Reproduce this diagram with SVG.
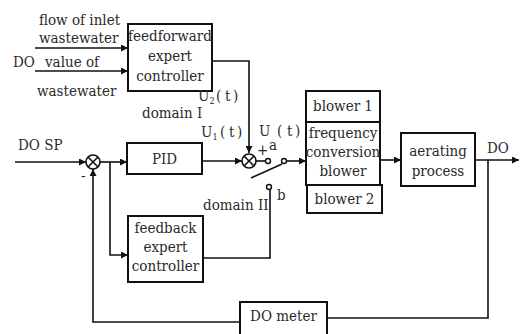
<svg xmlns="http://www.w3.org/2000/svg" width="520" height="334" viewBox="0 0 520 334">
<defs>
<style>
text{font-family:'DejaVu Serif Condensed','DejaVu Serif',serif;font-stretch:condensed;font-size:15px;fill:#2a2a2a}
.c{text-anchor:middle}
.box{fill:#fff;stroke:#111;stroke-width:2}
.ln{fill:none;stroke:#111;stroke-width:1.6}
.sub{font-size:9px}
</style>
<marker id="ah" viewBox="0 0 10 10" refX="10" refY="5" markerWidth="7" markerHeight="7" markerUnits="userSpaceOnUse" orient="auto">
<path d="M0,0 L10,5 L0,10 z" fill="#111"/>
</marker>
</defs>
<rect width="520" height="334" fill="#fff"/>

<g id="connectors">
<path class="ln" d="M35,48 H128" marker-end="url(#ah)"/>
<path class="ln" d="M35,71 H128" marker-end="url(#ah)"/>
<path class="ln" d="M212,61 H249 V153" marker-end="url(#ah)"/>
<path class="ln" d="M15,162 H86" marker-end="url(#ah)"/>
<path class="ln" d="M100,162 H127" marker-end="url(#ah)"/>
<path class="ln" d="M110,162 V255 H128" marker-end="url(#ah)"/>
<path class="ln" d="M202,161 H242" marker-end="url(#ah)"/>
<path class="ln" d="M256,161 H265.5"/>
<circle cx="268" cy="161" r="2.5" fill="#fff" stroke="#111" stroke-width="1.4"/>
<circle cx="284" cy="161" r="2.5" fill="#fff" stroke="#111" stroke-width="1.4"/>
<path class="ln" d="M251,178 L282,164"/>
<path class="ln" d="M286.5,161 H306" marker-end="url(#ah)"/>
<circle cx="269" cy="187" r="2.5" fill="#fff" stroke="#111" stroke-width="1.4"/>
<path class="ln" d="M270,189.5 V258 H203"/>
<path class="ln" d="M380,160 H401" marker-end="url(#ah)"/>
<path class="ln" d="M475,160 H519" marker-end="url(#ah)"/>
<path class="ln" d="M488,160 V318 H327"/>
<path class="ln" d="M240,322 H93 V169" marker-end="url(#ah)"/>
</g>

<g id="sum1">
<circle cx="93" cy="162" r="7" fill="#fff" stroke="#111" stroke-width="1.6"/>
<path class="ln" d="M88,157 L98,167 M98,157 L88,167"/>
</g>
<g id="sum2">
<circle cx="249" cy="161" r="7" fill="#fff" stroke="#111" stroke-width="1.6"/>
<path class="ln" d="M244,156 L254,166 M254,156 L244,166"/>
</g>

<g id="feedforward">
<rect class="box" x="128" y="24" width="84" height="67"/>
<text class="c" x="170" y="41">feedforward</text>
<text class="c" x="170" y="61">expert</text>
<text class="c" x="170" y="81">controller</text>
</g>

<g id="pid">
<rect class="box" x="127" y="143" width="75" height="31"/>
<text class="c" x="164.5" y="164">PID</text>
</g>

<g id="feedback">
<rect class="box" x="128" y="216" width="75" height="66"/>
<text class="c" x="165.5" y="233">feedback</text>
<text class="c" x="165.5" y="252">expert</text>
<text class="c" x="165.5" y="271">controller</text>
</g>

<g id="blower1">
<rect class="box" x="306" y="91" width="74" height="31"/>
<text class="c" x="343" y="111">blower 1</text>
</g>
<g id="fcblower">
<rect class="box" x="306" y="122" width="74" height="63"/>
<text class="c" x="343" y="138">frequency</text>
<text class="c" x="343" y="157">conversion</text>
<text class="c" x="343" y="176">blower</text>
</g>
<g id="blower2">
<rect class="box" x="307" y="185" width="75" height="28"/>
<text class="c" x="344.5" y="204">blower 2</text>
</g>

<g id="aerating">
<rect class="box" x="401" y="133" width="74" height="53"/>
<text class="c" x="438" y="156">aerating</text>
<text class="c" x="438" y="176">process</text>
</g>

<g id="dometer">
<rect class="box" x="240" y="302" width="87" height="36"/>
<text class="c" x="283.5" y="321">DO meter</text>
</g>

<g id="labels">
<text x="39" y="25">flow of inlet</text>
<text x="39" y="43">wastewater</text>
<text x="13" y="67">DO</text>
<text x="45" y="67">value of</text>
<text x="37" y="96">wastewater</text>
<text x="18" y="150">DO SP</text>
<text x="81" y="181">-</text>
<text x="198" y="101">U<tspan class="sub" dy="3">2</tspan><tspan dy="-3" x="216">(</tspan><tspan x="225">t</tspan><tspan x="233">)</tspan></text>
<text x="142" y="118">domain I</text>
<text x="201" y="137">U<tspan class="sub" dy="3">1</tspan><tspan dy="-3" x="220">(</tspan><tspan x="229">t</tspan><tspan x="237">)</tspan></text>
<text x="259" y="136">U<tspan x="277">(</tspan><tspan x="287">t</tspan><tspan x="295">)</tspan></text>
<text x="269" y="150">a</text>
<text x="257" y="155">+</text>
<text x="277" y="200">b</text>
<text x="203" y="210">domain II</text>
<text x="487" y="153">DO</text>
</g>
</svg>
